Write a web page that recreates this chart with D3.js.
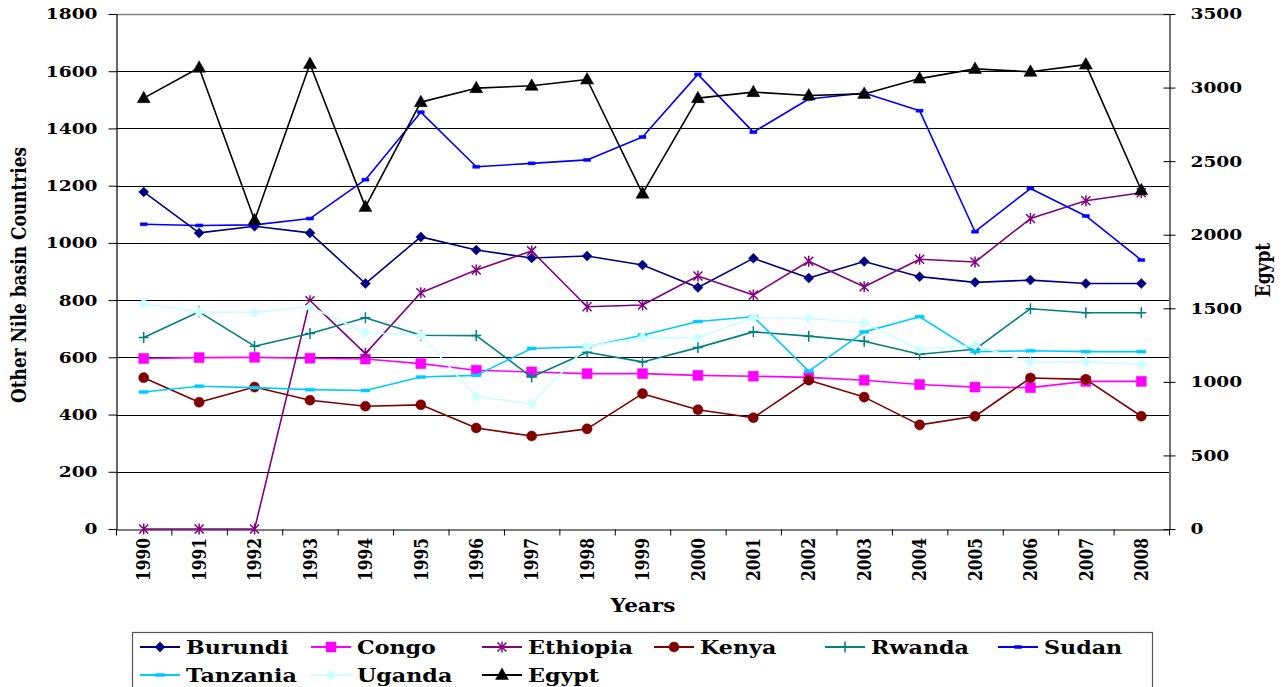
<!DOCTYPE html>
<html><head><meta charset="utf-8">
<script src="https://cdn.jsdelivr.net/npm/d3@7"></script>
<style>
html,body{margin:0;padding:0;background:#fff;}
svg{display:block;font-family:"DejaVu Serif",serif;font-weight:bold;}
</style></head>
<body><svg id="c" width="1281" height="687"></svg>
<script>
const years = ["1990","1991","1992","1993","1994","1995","1996","1997","1998","1999","2000","2001","2002","2003","2004","2005","2006","2007","2008"];
const leftTicks = [0,200,400,600,800,1000,1200,1400,1600,1800];
const rightTicks = [0,500,1000,1500,2000,2500,3000,3500];

const burundi  = [1178,1035,1058,1035,858,1021,975,947,954,923,844,946,877,935,882,862,870,858,858];
const congo    = [596,599,600,597,594,578,555,549,543,543,537,534,530,520,505,496,494,516,516];
const ethiopia = [0,0,0,798,613,826,905,972,777,783,884,818,936,847,943,933,1085,1147,1175];
const kenya    = [529,443,496,450,429,434,353,325,350,473,417,389,520,461,364,394,528,523,394];
const rwanda   = [669,759,639,683,738,677,676,531,618,584,634,689,674,656,611,628,770,756,756];
const sudan    = [1065,1061,1063,1085,1221,1457,1266,1278,1290,1370,1589,1387,1503,1524,1462,1039,1190,1094,940];
const tanzania = [479,499,494,487,484,531,537,631,637,677,725,742,552,689,742,620,623,620,620];
const uganda   = [788,759,757,777,686,677,463,438,639,669,669,739,736,721,628,642,583,584,576];
const egypt    = [2928,3135,2098,3160,2189,2901,2996,3012,3055,2279,2928,2969,2946,2957,3061,3127,3107,3156,2302];

const series = [
  {name:"Burundi",  values:burundi,  color:"#000080", marker:"diamond", axis:"L"},
  {name:"Congo",    values:congo,    color:"#FF00FF", marker:"square",  axis:"L"},
  {name:"Ethiopia", values:ethiopia, color:"#800080", marker:"star",    axis:"L"},
  {name:"Kenya",    values:kenya,    color:"#800000", marker:"circle",  axis:"L"},
  {name:"Rwanda",   values:rwanda,   color:"#008080", marker:"plus",    axis:"L"},
  {name:"Sudan",    values:sudan,    color:"#0000FF", marker:"dash",    axis:"L"},
  {name:"Tanzania", values:tanzania, color:"#00CCFF", marker:"dash2",   axis:"L"},
  {name:"Uganda",   values:uganda,   color:"#CCFFFF", marker:"diamond", axis:"L"},
  {name:"Egypt",    values:egypt,    color:"#000000", marker:"triangle",axis:"R"}
];

const svg = d3.select("#c");
const L = 116, R = 1169, T = 14, B = 529;
const SX = 1.2;
const fmt = d3.format("d");

const x = d3.scaleBand().domain(years).range([L,R]).padding(0);
const xb = d3.scaleLinear().domain([0,years.length]).range([L,R]);
const yL = d3.scaleLinear().domain([0,1800]).range([B,T]);
const yR = d3.scaleLinear().domain([0,3500]).range([B,T]);
const cx = d => x(d) + x.bandwidth()/2;

// gridlines
svg.append("g").selectAll("line").data(leftTicks.filter(v=>v>0)).join("line")
  .attr("x1",L).attr("x2",R).attr("y1",d=>Math.round(yL(d))+0.5).attr("y2",d=>Math.round(yL(d))+0.5)
  .attr("stroke",d=>d===1800?"#808080":"#000").attr("stroke-width",d=>d===1800?1.5:1);

// left axis
const gl = svg.append("g").attr("transform",`translate(${L+0.5},0)`)
  .call(d3.axisLeft(yL).tickValues(leftTicks).tickFormat(fmt).tickSize(8).tickSizeOuter(0));
gl.select(".domain").attr("stroke","#000").attr("stroke-width",1.2);
gl.selectAll("text").attr("x",0).attr("fill","#000")
  .attr("transform",`translate(-19,0) scale(${SX},1)`)
  .style("font-size","15.5px").style("font-family","DejaVu Serif").style("font-weight","bold");

// right axis
const gr = svg.append("g").attr("transform",`translate(${R+0.5},0)`)
  .call(d3.axisRight(yR).tickValues(rightTicks).tickFormat(fmt).tickSize(6).tickSizeOuter(0));
gr.select(".domain").attr("stroke","#444").attr("stroke-width",1.5);
gr.selectAll(".tick line").attr("x1",-6).attr("x2",6);
gr.selectAll("text").attr("x",0).attr("fill","#000")
  .attr("transform",`translate(21,0) scale(${SX},1)`)
  .style("font-size","15.5px").style("font-family","DejaVu Serif").style("font-weight","bold");

// bottom axis: boundary ticks
const gb = svg.append("g").attr("transform",`translate(0,${B+0.5})`)
  .call(d3.axisBottom(xb).tickValues(d3.range(0,years.length+1)).tickSize(6).tickSizeOuter(0).tickFormat(""));
gb.select(".domain").attr("stroke","#000").attr("stroke-width",1.2);
// bottom axis labels
const gx = svg.append("g").attr("transform",`translate(0,${B})`)
  .call(d3.axisBottom(x).tickSize(0));
gx.select(".domain").remove();
gx.selectAll("text").attr("y",0).attr("dy","0.36em").attr("text-anchor","end").attr("fill","#000")
  .attr("transform",`translate(0,9) scale(${SX},1) rotate(-90)`)
  .style("font-size","15.5px").style("font-family","DejaVu Serif").style("font-weight","bold");

// axis titles
function stext(xp,yp,rot,txt,size,anchor){
  return svg.append("text").attr("transform",`translate(${xp},${yp}) scale(${SX},1) rotate(${rot})`)
    .attr("text-anchor",anchor).style("font-size",size+"px").attr("fill","#000").text(txt);
}
stext(643,612,0,"Years",18,"middle");
stext(26,275,-90,"Other Nile basin Countries",17,"middle");
stext(1270,270,-90,"Egypt",17,"middle");

// markers
function markerPath(type){
  switch(type){
    case "diamond": return "M0,-5L5,0L0,5L-5,0Z";
    case "square": return "M-5,-5H5V5H-5Z";
    case "circle": return d3.symbol(d3.symbolCircle, 80)();
    case "triangle": return "M0,-7L6.5,4.5L-6.5,4.5Z";
    case "star": return "M-4.5,-4.5L4.5,4.5M-4.5,4.5L4.5,-4.5M0,-5.5V5.5";
    case "plus": return "M-5,0H5M0,-5.5V5.5";
    case "dash": return "M-3.5,-1.5H3.5V1.5H-3.5Z";
    case "dash2": return "M-4.5,-1.5H4.5V1.5H-4.5Z";
  }
}
const isStroke = t => t==="star"||t==="plus";

series.forEach(s=>{
  const ys = s.axis==="L"?yL:yR;
  const line = d3.line().x((d,i)=>cx(years[i])).y(d=>ys(d));
  const g = svg.append("g");
  g.append("path").datum(s.values).attr("d",line).attr("fill","none")
    .attr("stroke",s.color).attr("stroke-width",1.6).attr("stroke-linejoin","round");
  g.selectAll("path.m").data(s.values).join("path").attr("class","m")
    .attr("transform",(d,i)=>`translate(${cx(years[i])},${ys(d)})`)
    .attr("d",markerPath(s.marker))
    .attr("fill",isStroke(s.marker)?"none":s.color)
    .attr("stroke",s.color).attr("stroke-width",isStroke(s.marker)?1.5:0.5);
});

// legend
svg.append("rect").attr("x",132.5).attr("y",632.5).attr("width",1020).attr("height",60)
  .attr("fill","#fff").attr("stroke","#555").attr("stroke-width",1.2);
const colX = [140,311,482,654,825,998];
const rowY = [647,675];
series.forEach((s,i)=>{
  const c = i%6, r = Math.floor(i/6);
  const lx = colX[c], ly = rowY[r];
  const g = svg.append("g");
  g.append("line").attr("x1",lx).attr("x2",lx+40).attr("y1",ly).attr("y2",ly)
    .attr("stroke",s.color).attr("stroke-width",1.8);
  g.append("path").attr("transform",`translate(${lx+20},${ly})`).attr("d",markerPath(s.marker))
    .attr("fill",isStroke(s.marker)?"none":s.color).attr("stroke",s.color)
    .attr("stroke-width",isStroke(s.marker)?1.5:0.5);
  g.append("text").attr("transform",`translate(${lx+46},${ly}) scale(${SX},1)`)
    .attr("dy","0.36em").style("font-size","18.5px").attr("fill","#000").text(s.name);
});
</script></body></html>
